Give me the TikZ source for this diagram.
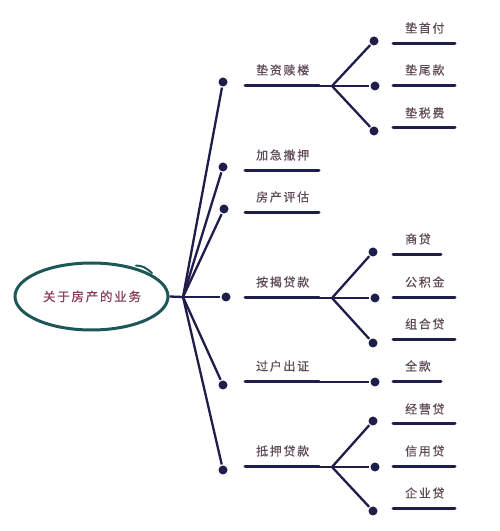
\documentclass[tikz,border=0pt]{standalone}
\usepackage{xcolor}
\usepackage{fontspec}
\usepackage{tikz}
\usetikzlibrary{positioning,shapes.geometric}
\newfontfamily\cjk{Noto Sans CJK SC}[LetterSpace=14, FakeBold=0.4]
\definecolor{navy}{HTML}{1F1D4A}
\definecolor{teal}{HTML}{1D5757}
\definecolor{lblgray}{HTML}{5E4A56}
\definecolor{rootred}{HTML}{8A3C55}

\tikzset{
  dot/.style={circle, fill=navy, inner sep=0pt, minimum size=9pt},
  lbl/.style={anchor=west, inner sep=0pt, text=lblgray, font=\cjk\fontsize{12}{14}\selectfont},
  uline/.style={line width=3pt, line cap=round},
  ring/.style={ellipse, draw=teal, line width=3pt, minimum width=153pt, minimum height=67pt}
}

\begin{document}
\begin{tikzpicture}[x=1pt, y=1pt, draw=navy, line width=2.3pt]
\useasboundingbox[fill=white] (0,0) rectangle (500,531);
\node[ring] (root) at (91.5,234.5) {};
\draw[teal, line width=2pt, line cap=round] (136,265.5) .. controls (144,264.5) .. (152,258);
\node[text=rootred, font=\cjk\fontsize{12.5}{14}\selectfont] (roottxt) at (92,234.5) {关于房产的业务};
\coordinate (j) at (183,234);
\draw (root.east) -- (j);

% first level
\node[dot] (a) at (223,449) {};
\node[dot] (b) at (223,364) {};
\node[dot] (c) at (224,322) {};
\node[dot] (d) at (226,234) {};
\node[dot] (e) at (223,146) {};
\node[dot] (f) at (223,61) {};
\path (j) edge (a) edge (b) edge (c) edge (d) edge (e) edge (f);

\coordinate (as) at (245,445); \coordinate (ae) at (319,445);
\coordinate (bs) at (245,360); \coordinate (be) at (319,360);
\coordinate (cs) at (245,318); \coordinate (ce) at (319,318);
\coordinate (ds) at (245,233); \coordinate (de) at (319,233);
\coordinate (es) at (245,149); \coordinate (ee) at (319,149);
\coordinate (fs) at (245,64);  \coordinate (fe) at (319,64);
\draw[uline] (as) -- (ae);
\draw[uline] (bs) -- (be);
\draw[uline] (cs) -- (ce);
\draw[uline] (ds) -- (de);
\draw[uline] (es) -- (ee);
\draw[uline] (fs) -- (fe);

\node[lbl] (at) at (255,461) {垫资赎楼};
\node[lbl] (bt) at (255,376) {加急撤押};
\node[lbl] (ct) at (255,334) {房产评估};
\node[lbl] (dt) at (255,249) {按揭贷款};
\node[lbl] (et) at (255,165) {过户出证};
\node[lbl] (ft) at (255,80)  {抵押贷款};

% forks
\coordinate (ak) at (332,445);
\coordinate (dk) at (332,233);
\coordinate (fk) at (332,64);
\draw[line width=1.8pt] (ae) -- (ak);
\draw[line width=1.8pt] (de) -- (dk);
\draw[line width=1.8pt] (fe) -- (fk);

% second level
\node[dot] (a1) at (374,490) {};
\node[dot] (a2) at (375,445) {};
\node[dot] (a3) at (374,400) {};
\node[dot] (d1) at (373,279) {};
\node[dot] (d2) at (375,233) {};
\node[dot] (d3) at (373,188) {};
\node[dot] (e1) at (375,149) {};
\node[dot] (f1) at (373,110) {};
\node[dot] (f2) at (375,64) {};
\node[dot] (f3) at (373,20) {};
\path (ak) edge (a1) edge (a2) edge (a3);
\path (dk) edge (d1) edge (d2) edge (d3);
\path (fk) edge (f1) edge (f2) edge (f3);
\draw[line width=1.8pt] (ee) -- (e1);

\draw[uline] (393,487) -- (455,487);
\draw[uline] (393,445) -- (455,445);
\draw[uline] (393,403) -- (455,403);
\draw[uline] (393,276) -- (441,276);
\draw[uline] (393,233) -- (455,233);
\draw[uline] (393,191) -- (455,191);
\draw[uline] (393,149) -- (441,149);
\draw[uline] (393,107) -- (455,107);
\draw[uline] (393,64)  -- (455,64);
\draw[uline] (393,22)  -- (455,22);

\node[lbl] (a1t) at (404,503) {垫首付};
\node[lbl] (a2t) at (404,461) {垫尾款};
\node[lbl] (a3t) at (404,418) {垫税费};
\node[lbl] (d1t) at (404,292) {商贷};
\node[lbl] (d2t) at (404,249) {公积金};
\node[lbl] (d3t) at (404,207) {组合贷};
\node[lbl] (e1t) at (404,165) {全款};
\node[lbl] (f1t) at (404,122) {经营贷};
\node[lbl] (f2t) at (404,80)  {信用贷};
\node[lbl] (f3t) at (404,38)  {企业贷};
\end{tikzpicture}
\end{document}
